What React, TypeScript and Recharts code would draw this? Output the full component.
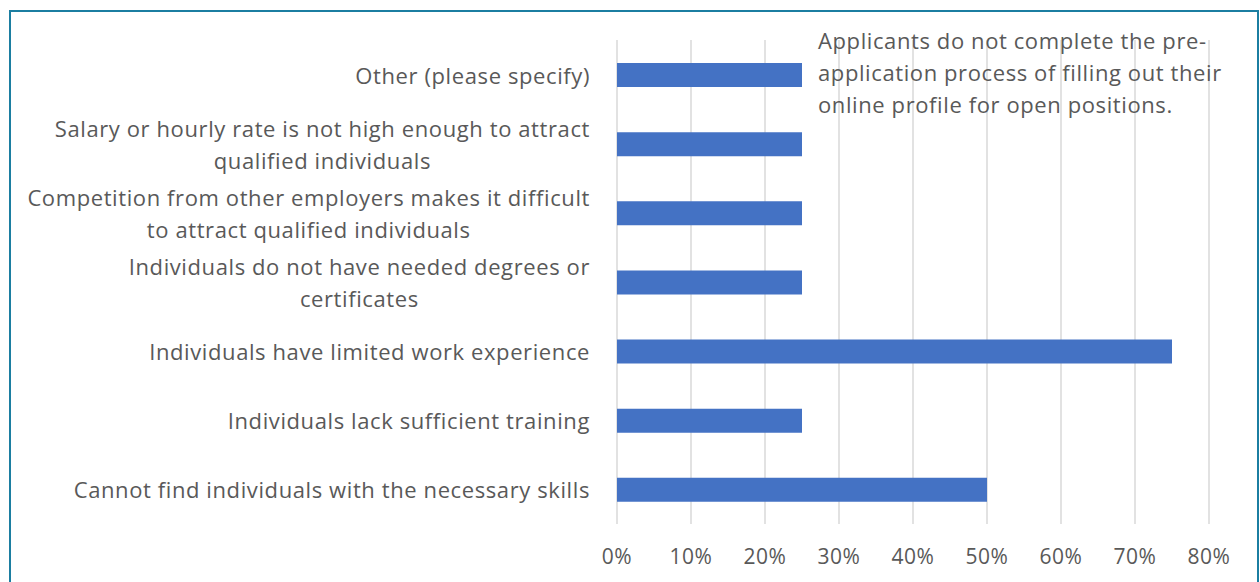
import React from "react";
import { BarChart, Bar, XAxis, YAxis, CartesianGrid } from "recharts";

const categories: string[] = [
  "Other (please specify)",
  "Salary or hourly rate is not high enough to attract\nqualified individuals",
  "Competition from other employers makes it difficult\nto attract qualified individuals",
  "Individuals do not have needed degrees or\ncertificates",
  "Individuals have limited work experience",
  "Individuals lack sufficient training",
  "Cannot find individuals with the necessary skills",
];
const values: number[] = [0.25, 0.25, 0.25, 0.25, 0.75, 0.25, 0.5];
const xTicks: number[] = [0, 0.1, 0.2, 0.3, 0.4, 0.5, 0.6, 0.7, 0.8];
const noteLines: string[] = [
  "Applicants do not complete the pre-",
  "application process of filling out their",
  "online profile for open positions.",
];

const data = categories.map((name, i) => ({ name, value: values[i] }));

const FONT = "'Open Sans'";
const FS = 22;
const LS = 0.6;
const TEXT = "#595959";
const LINE_H = 32;

let ctx: CanvasRenderingContext2D | null = null;
function measure(s: string): number {
  if (typeof document === "undefined") return s.length * FS * 0.5;
  if (!ctx) ctx = document.createElement("canvas").getContext("2d");
  if (!ctx) return s.length * FS * 0.5;
  ctx.font = `${FS}px ${FONT}`;
  return ctx.measureText(s).width + s.length * LS;
}

const YTick = (props: any) => {
  const { x, y, payload } = props;
  const lines: string[] = String(payload.value).split("\n");
  const maxW = Math.max(...lines.map(measure));
  const n = lines.length;
  return (
    <g>
      {lines.map((l, i) => (
        <text
          key={i}
          x={n > 1 ? x - maxW / 2 : x}
          y={y + (i - (n - 1) / 2) * LINE_H}
          textAnchor={n > 1 ? "middle" : "end"}
          dominantBaseline="central"
          fill={TEXT}
          fontSize={FS}
          fontFamily={FONT}
          letterSpacing={LS}
        >
          {l}
        </text>
      ))}
    </g>
  );
};

const XTick = (props: any) => {
  const { x, y, payload } = props;
  return (
    <text
      x={x}
      y={y}
      textAnchor="middle"
      dominantBaseline="central"
      fill={TEXT}
      fontSize={21}
      fontFamily={FONT}
      letterSpacing={LS}
    >
      {`${Math.round(payload.value * 100)}%`}
    </text>
  );
};

export default function App() {
  return (
    <div style={{ position: "absolute", left: 0, top: 0, width: 1260, height: 582, background: "#fff", overflow: "hidden" }}>
      <div
        style={{
          position: "absolute",
          left: 9,
          top: 10,
          width: 1250,
          height: 600,
          boxSizing: "border-box",
          borderTop: "2px solid #1b7ea1",
          borderLeft: "2px solid #1b7ea1",
          borderRight: "2px solid #1b7ea1",
        }}
      />
      <div style={{ position: "absolute", left: 0, top: 0 }}>
        <BarChart
          width={1260}
          height={582}
          data={data}
          layout="vertical"
          margin={{ top: 40, right: 51, left: 0, bottom: 0 }}
        >
          <CartesianGrid horizontal={false} vertical={true} stroke="#d9d9d9" strokeWidth={1.5} />
          <XAxis
            type="number"
            domain={[0, 0.8]}
            ticks={xTicks}
            axisLine={false}
            tickLine={false}
            tickSize={0}
            tickMargin={32}
            height={58}
            interval={0}
            tick={<XTick />}
          />
          <YAxis
            type="category"
            dataKey="name"
            width={617}
            axisLine={false}
            tickLine={false}
            tickSize={0}
            tickMargin={27}
            interval={0}
            tick={<YTick />}
          />
          <Bar dataKey="value" fill="#4472C4" barSize={24} isAnimationActive={false} />
        </BarChart>
      </div>
      <div
        style={{
          position: "absolute",
          left: 818,
          top: 24,
          fontFamily: FONT,
          fontSize: FS,
          letterSpacing: LS,
          lineHeight: `${LINE_H}px`,
          color: TEXT,
          whiteSpace: "pre",
        }}
      >
        {noteLines.map((l, i) => (
          <div key={i}>{l}</div>
        ))}
      </div>
    </div>
  );
}
